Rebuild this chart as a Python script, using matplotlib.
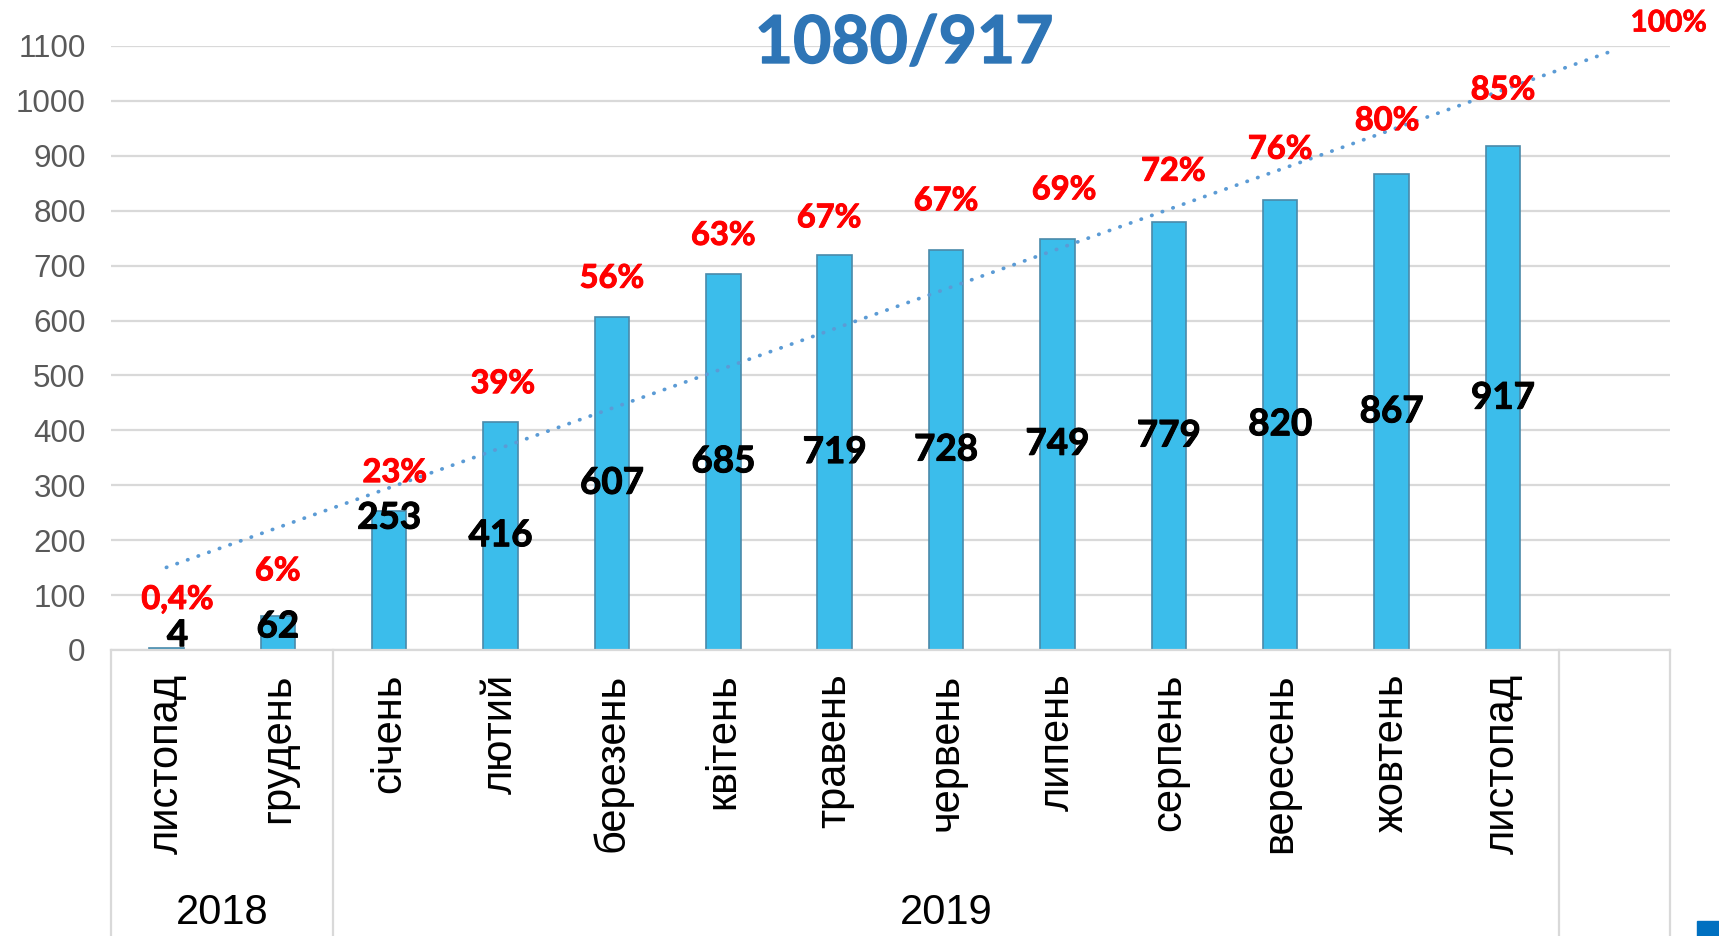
import numpy as np
import matplotlib
matplotlib.use("Agg")
import matplotlib.pyplot as plt
import matplotlib.patheffects as pe
from matplotlib.patches import Rectangle

# ---- data ----
months = ["листопад", "грудень", "січень", "лютий", "березень", "квітень", "травень",
          "червень", "липень", "серпень", "вересень", "жовтень", "листопад"]
years = ["2018", "2019"]
counts = [4, 62, 253, 416, 607, 685, 719, 728, 749, 779, 820, 867, 917]
pct_labels = ["0,4%", "6%", "23%", "39%", "56%", "63%", "67%", "67%", "69%", "72%",
              "76%", "80%", "85%"]
target_label = "100%"
title = "1080/917"

# label placement (data units)
count_label_y = [26, 42, 240] + [v / 2 for v in counts[3:]]
count_label_dx = [0.1, 0, 0] + [0] * 10
pct_label_y = [92, 144, 323, 485, 677, 755, 787, 818, 838, 872, 912, 964, 1020]
pct_label_dx = [0.1, 0, 0.05, 0.02, 0, 0, -0.05, 0, 0.06, 0.04, 0, -0.04, 0]

BAR, BAR_EDGE, GRID = "#3BBDEB", "#4A8AAA", "#D9D9D9"
RED, TREND, TITLE = "#FF0000", "#5B9BD5", "#2E75B6"
LBL = ["Lato", "DejaVu Sans"]
AX = ["Liberation Sans", "DejaVu Sans"]


def heavy(c, w=0.7):
    # Lato Bold is a touch lighter than the original's Calibri Bold
    return [pe.withStroke(linewidth=w, foreground=c)]


fig = plt.figure(figsize=(17.19, 9.36), dpi=100)
ax = fig.add_axes([0.0644, 0.3056, 0.9071, 0.6453])

x = np.arange(len(counts))
ax.bar(x, counts, width=0.31, color=BAR, edgecolor=BAR_EDGE, linewidth=1.2, zorder=2)

# linear trendline, forecast one period forward
k, b = np.polyfit(x, counts, 1)
xt = np.array([0, len(counts)])
ax.plot(xt, k * xt + b, color=TREND, lw=2.7, linestyle=(0, (0.1, 2.9)),
        dash_capstyle="round", zorder=3, clip_on=False)

for i, v in enumerate(counts):
    ax.text(i + count_label_dx[i], count_label_y[i], str(v), ha="center", va="center",
            fontsize=26.5, fontweight="bold", family=LBL, color="black", zorder=4,
            path_effects=heavy("black"))
    ax.text(i + pct_label_dx[i], pct_label_y[i], pct_labels[i], ha="center", va="center",
            fontsize=23.5, fontweight="bold", family=LBL, color=RED, zorder=4,
            path_effects=heavy(RED))

ax.set_xlim(-0.5, 13.5)
ax.set_ylim(0, 1100)
ax.set_yticks(np.arange(0, 1101, 100))
ax.yaxis.grid(True, color=GRID, lw=1.6, zorder=0)
ax.set_axisbelow(True)
for s in ["top", "right", "left"]:
    ax.spines[s].set_visible(False)
ax.spines["bottom"].set_color(GRID)
ax.spines["bottom"].set_linewidth(1.6)
ax.tick_params(axis="y", length=0, pad=18, labelsize=22.6, labelcolor="#595959")
for t in ax.get_yticklabels():
    t.set_family(AX)
ax.set_xticks(x)
ax.set_xticklabels(months, rotation=90, fontsize=30, family=AX, va="top")
ax.tick_params(axis="x", length=0, pad=17)

# year group separators and labels
xtr = ax.get_xaxis_transform()
for xb in [-0.5, 1.5, 12.5, 13.5]:
    ax.plot([xb, xb], [0, -0.6], transform=xtr, color=GRID, lw=1.6, clip_on=False)
ax.text(0.5, -0.435, years[0], transform=xtr, ha="center", va="center", fontsize=30, family=AX)
ax.text(7.0, -0.435, years[1], transform=xtr, ha="center", va="center", fontsize=30, family=AX)

fig.text(0.526, 0.953, title, ha="center", va="center", fontsize=47.5, fontweight="bold",
         family=LBL, color=TITLE, path_effects=heavy(TITLE, 1.0))
fig.text(0.9707, 0.976, target_label, ha="center", va="center", fontsize=21.5,
         fontweight="bold", family=LBL, color=RED, path_effects=heavy(RED, 0.5))
fig.patches.append(Rectangle((0.987, 0.0), 0.013, 0.016, transform=fig.transFigure,
                             color="#0070C0"))

fig.savefig("out.png", dpi=100)
